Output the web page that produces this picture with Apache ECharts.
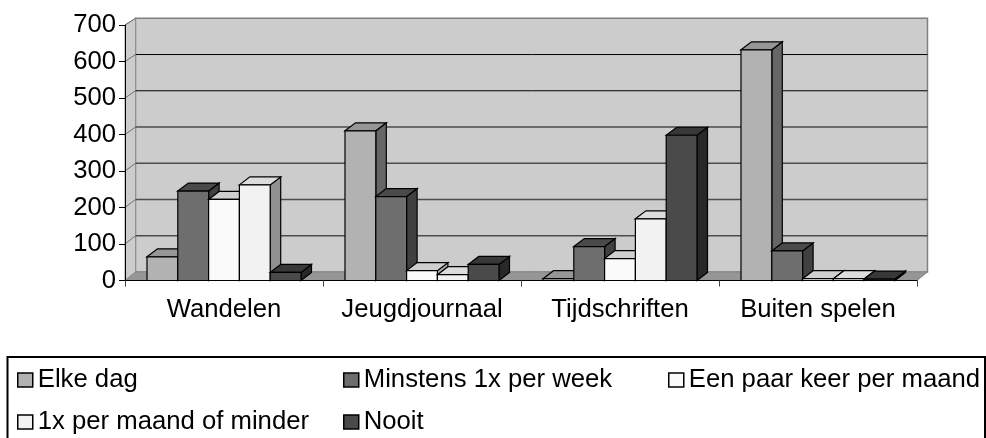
<!DOCTYPE html>
<html>
<head>
<meta charset="utf-8">
<script src="https://cdn.jsdelivr.net/npm/echarts@6/dist/echarts.min.js"></script>
<style>
html, body { margin: 0; padding: 0; background: #fff; }
#chart { width: 986px; height: 438px; }
</style>
</head>
<body>
<div id="chart"></div>
<script>
var categories = ['Wandelen', 'Jeugdjournaal', 'Tijdschriften', 'Buiten spelen'];
var seriesNames = ['Elke dag', 'Minstens 1x per week', 'Een paar keer per maand', '1x per maand of minder', 'Nooit'];
var elkeDag = [65, 410, 5, 632];
var minstens = [245, 230, 93, 81];
var eenPaar = [222, 27, 60, 5];
var perMaand = [262, 16, 169, 5];
var nooit = [22, 44, 398, 4];
var yTicks = [0, 100, 200, 300, 400, 500, 600, 700];

var seriesValues = [elkeDag, minstens, eenPaar, perMaand, nooit];
var frontColors = ['#b2b2b2', '#6e6e6e', '#fafafa', '#f2f2f2', '#4a4a4a'];
var topColors = ['#969696', '#4a4a4a', '#cfcfcf', '#dcdcdc', '#383838'];
var sideColors = ['#666666', '#404040', '#a8a8a8', '#909090', '#282828'];
var legendPos = [[17, 365], [343, 365], [668, 365], [17, 407], [343, 407]];

var depthX = 10.5, depthY = 8;
var wallDepthY = 8.5, wallScale = 0.993;
var groupGap = 22, barCount = 5;

function poly(points, fill) {
	return {
		type: 'polygon',
		shape: { points: points },
		style: { fill: fill, stroke: '#000', lineWidth: 1.2 }
	};
}

function barItem(idx) {
	return function (params, api) {
		var cat = api.value(0);
		var base = api.coord([cat, 0]);
		var top = api.coord([cat, api.value(1)]);
		var catW = api.size([1, 0])[0];
		var barW = (catW - 2 * groupGap) / barCount;
		var x0 = base[0] - catW / 2 + groupGap + idx * barW;
		var x1 = x0 + barW;
		var y0 = base[1], y1 = top[1];
		return {
			type: 'group',
			children: [
				poly([[x1, y0], [x1 + depthX, y0 - depthY], [x1 + depthX, y1 - depthY], [x1, y1]], sideColors[idx]),
				poly([[x0, y1], [x0 + depthX, y1 - depthY], [x1 + depthX, y1 - depthY], [x1, y1]], topColors[idx]),
				poly([[x0, y0], [x1, y0], [x1, y1], [x0, y1]], frontColors[idx])
			]
		};
	};
}

// back wall, side wall and floor of the 3d box, one item per tick for the gridlines
function wallItem(params, api) {
	var value = api.value(0);
	var rect = params.coordSys;
	var left = rect.x, right = rect.x + rect.width;
	var yBase = rect.y + rect.height;
	var y = api.coord([0, value])[1];
	var backY = function (v) { return yBase - wallDepthY - (yBase - v) * wallScale; };
	var back = backY(y);
	var children = [];
	if (params.dataIndex === 0) {
		var topFront = rect.y, topBack = backY(rect.y), wx = left + depthX, rx = right + depthX;
		children.push({
			type: 'polygon',
			shape: { points: [[wx, topBack], [rx, topBack], [rx, back], [wx, back]] },
			style: { fill: '#cccccc', stroke: '#808080', lineWidth: 1.5 }
		});
		children.push({
			type: 'polygon',
			shape: { points: [[left, topFront], [wx, topBack], [wx, back], [left, y]] },
			style: { fill: '#cccccc', stroke: '#909090', lineWidth: 1 }
		});
		children.push({
			type: 'polygon',
			shape: { points: [[left, y], [wx, back], [rx, back], [right, y]] },
			style: { fill: '#969696', stroke: '#868686', lineWidth: 1 }
		});
	} else {
		if (value < 700) {
			children.push({
				type: 'line',
				shape: { x1: left + depthX, y1: back, x2: right + depthX, y2: back },
				style: value >= 500 ? { stroke: '#000', lineWidth: 1 } : { stroke: '#4d4d4d', lineWidth: 1.5 }
			});
		}
		children.push({
			type: 'line',
			shape: { x1: left, y1: y, x2: left + depthX, y2: back },
			style: { stroke: '#707070', lineWidth: 1 }
		});
	}
	return { type: 'group', children: children };
}

var series = [{
	type: 'custom',
	name: 'wall',
	coordinateSystem: 'cartesian2d',
	renderItem: wallItem,
	data: yTicks.map(function (t) { return [t]; }),
	encode: { y: 0 },
	silent: true,
	z: 1
}];

seriesNames.forEach(function (name, i) {
	series.push({
		type: 'custom',
		name: name,
		coordinateSystem: 'cartesian2d',
		renderItem: barItem(i),
		itemStyle: { color: frontColors[i] },
		data: seriesValues[i].map(function (v, c) { return [c, v]; }),
		encode: { x: 0, y: 1 },
		z: 2
	});
});

var chart = echarts.init(document.getElementById('chart'), null, { renderer: 'canvas' });
chart.setOption({
	animation: false,
	backgroundColor: '#fff',
	textStyle: { fontFamily: 'Liberation Sans' },
	grid: { left: 125, right: 69, top: 25, bottom: 157.5 },
	xAxis: {
		type: 'category',
		data: categories,
		boundaryGap: true,
		axisLine: { onZero: false, lineStyle: { color: '#000', width: 1 } },
		axisTick: { show: true, interval: 0, alignWithLabel: false, length: 6, lineStyle: { color: '#444' } },
		axisLabel: { color: '#000', fontSize: 25.7, margin: 16, interval: 0, hideOverlap: false },
		z: 5
	},
	yAxis: {
		type: 'value',
		min: 0,
		max: 700,
		interval: 100,
		axisLine: { show: true, lineStyle: { color: '#000', width: 1 } },
		axisTick: { show: true, length: 6, lineStyle: { color: '#000' } },
		axisLabel: { color: '#000', fontSize: 25.7, margin: 9, padding: [2, 0, 0, 0] },
		splitLine: { show: false },
		z: 5
	},
	legend: seriesNames.map(function (name, i) {
		return {
			data: [name],
			left: legendPos[i][0],
			top: legendPos[i][1],
			padding: 0,
			itemWidth: 15,
			itemHeight: 14,
			itemGap: 9,
			icon: 'rect',
			selectedMode: false,
			itemStyle: { borderColor: '#000', borderWidth: 1.5 },
			textStyle: { color: '#000', fontSize: 25.7, lineHeight: 30, fontFamily: 'Liberation Sans' }
		};
	}),
	graphic: [{
		type: 'rect',
		shape: { x: 7.5, y: 357, width: 977.5, height: 90 },
		style: { fill: 'none', stroke: '#000', lineWidth: 2 },
		silent: true
	}],
	series: series
});
</script>
</body>
</html>
